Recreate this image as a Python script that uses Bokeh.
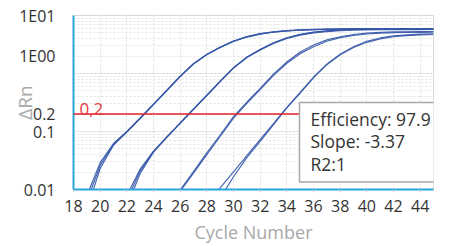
import numpy as np
from bokeh.plotting import figure
from bokeh.models import FixedTicker, Span, Label
from bokeh.embed import file_html
from bokeh.resources import INLINE

# ---- data ----
cycles = list(range(18, 46))
N = None

g1_a = [N, 0.0078, 0.029, 0.062, 0.100, 0.171, 0.297, 0.515, 0.90, 1.48, 2.12, 2.82, 3.58, 4.25,
        4.78, 5.15, 5.40, 5.58, 5.68, 5.75, 5.79, 5.82, 5.84, 5.85, 5.86, 5.86, 5.87, 5.87]
g1_b = [N, 0.0063, 0.026, 0.060, 0.099, 0.169, 0.294, 0.51, 0.894, 1.474, 2.13, 2.84, 3.63, 4.32,
        4.86, 5.24, 5.49, 5.67, 5.76, 5.82, 5.86, 5.89, 5.90, 5.90, 5.90, 5.90, 5.90, 5.90]
g1_c = [N, 0.0045, 0.023, 0.058, 0.098, 0.167, 0.291, 0.505, 0.885, 1.46, 2.12, 2.83, 3.60, 4.28,
        4.83, 5.20, 5.45, 5.62, 5.72, 5.79, 5.83, 5.86, 5.87, 5.88, 5.88, 5.88, 5.88, 5.88]

g2_a = [N, N, N, N, 0.0078, 0.0225, 0.046, 0.081, 0.1405, 0.244, 0.423, 0.738, 1.26, 1.91,
        2.60, 3.38, 4.13, 4.72, 5.15, 5.44, 5.63, 5.75, 5.81, 5.85, 5.87, 5.88, 5.89, 5.89]
g2_b = [N, N, N, N, 0.0065, 0.021, 0.045, 0.0802, 0.1394, 0.2424, 0.4207, 0.734, 1.25, 1.90,
        2.58, 3.35, 4.10, 4.69, 5.12, 5.41, 5.61, 5.74, 5.80, 5.85, 5.88, 5.90, 5.90, 5.90]
g2_c = [N, N, N, N, 0.005, 0.019, 0.044, 0.0795, 0.138, 0.241, 0.418, 0.728, 1.24, 1.88,
        2.55, 3.30, 4.03, 4.60, 5.00, 5.28, 5.46, 5.57, 5.64, 5.68, 5.70, 5.72, 5.73, 5.74]

g3_a = [N, N, N, N, N, N, N, 0.0048, 0.0098, 0.0204, 0.0427, 0.087, 0.18, 0.319,
        0.555, 0.973, 1.58, 2.35, 3.10, 3.80, 4.30, 4.70, 4.95, 5.10, 5.20, 5.25, 5.28, 5.30]
g3_b = [N, N, N, N, N, N, N, 0.0045, 0.0093, 0.0192, 0.040, 0.082, 0.170, 0.305,
        0.53, 0.93, 1.50, 2.20, 2.90, 3.60, 4.15, 4.55, 4.80, 4.95, 5.05, 5.10, 5.13, 5.15]

g4_a = [N, N, N, N, N, N, N, N, N, N, 0.0056, 0.0107, 0.0202, 0.0382,
        0.0724, 0.1365, 0.26, 0.47, 0.86, 1.45, 2.15, 2.90, 3.60, 4.10, 4.45, 4.65, 4.78, 4.85]
g4_b = [N, N, N, N, N, N, N, N, N, N, N, 0.0071, 0.0166, 0.0355,
        0.0676, 0.132, 0.255, 0.46, 0.85, 1.42, 2.10, 2.80, 3.45, 3.95, 4.30, 4.50, 4.62, 4.70]

curves = [g1_a, g1_b, g1_c, g2_a, g2_b, g2_c, g3_a, g3_b, g4_a, g4_b]

threshold = 0.2
threshold_label = "0,2"

x_ticks = list(range(18, 46, 2))
y_tick_values = [0.01, 0.1, 0.2, 2, 10]
y_tick_labels = ["0.01", "0.1", "0.2", "1E00", "1E01"]
y_grid_major = [0.01, 0.1, 1, 10]
y_grid_minor = [m * d for d in [0.01, 0.1, 1] for m in range(2, 10)]

stats_text = "Efficiency: 97.9\nSlope: -3.37\nR2:1"
x_title = "Cycle Number"
y_title = "\u0394Rn"

FONT = "Open Sans"
AXIS_BLUE = "#2ba3db"
LINE_BLUE = "#3456a8"

W, H = 450, 246
p = figure(width=W, height=H, y_axis_type="log",
           x_range=(18, 45), y_range=(0.01, 10),
           output_backend="svg", toolbar_location=None,
           min_border_left=73, min_border_right=W - 433,
           min_border_top=15, min_border_bottom=H - 193)
p.background_fill_color = "white"
p.border_fill_color = "white"
p.outline_line_color = "#d8d8d8"
p.outline_line_width = 1

# grids
p.xgrid.ticker = FixedTicker(ticks=x_ticks)
p.xgrid.grid_line_color = "#dcdcdc"
p.xgrid.grid_line_dash = "2 2"
p.ygrid.ticker = FixedTicker(ticks=y_grid_major, minor_ticks=y_grid_minor)
p.ygrid.grid_line_color = "#d6d6d6"
p.ygrid.grid_line_dash = "2 1"
p.ygrid.minor_grid_line_color = "#e3e3e3"
p.ygrid.minor_grid_line_dash = "2 2"

# axes
p.xaxis.ticker = FixedTicker(ticks=x_ticks)
p.yaxis.ticker = FixedTicker(ticks=y_tick_values)
p.yaxis.major_label_overrides = {v: t for v, t in zip(y_tick_values, y_tick_labels)}
for ax in (p.xaxis, p.yaxis):
    ax.axis_line_color = AXIS_BLUE
    ax.axis_line_width = 2
    ax.major_label_text_font = FONT
    ax.major_label_text_font_size = "16px"
    ax.major_label_text_color = "#333333"
    ax.minor_tick_line_color = None
    ax.axis_label_text_font = FONT
    ax.axis_label_text_font_style = "normal"
    ax.axis_label_text_color = "#a9a9a9"
p.yaxis.major_tick_line_color = None
p.yaxis.major_label_standoff = 12
p.xaxis.major_tick_line_color = "#c8c8c8"
p.xaxis.major_tick_out = 3
p.xaxis.major_tick_in = 0
p.xaxis.major_label_standoff = 7

p.xaxis.axis_label = x_title
p.xaxis.axis_label_text_font_size = "18px"
p.xaxis.axis_label_standoff = 5
p.yaxis.axis_label = y_title
p.yaxis.axis_label_text_font_size = "19px"
p.yaxis.axis_label_standoff = -22

# curves
for c in curves:
    p.line(cycles, np.array(c, dtype=float), line_color=LINE_BLUE,
           line_width=1.2, line_alpha=0.9)

# threshold
p.add_layout(Span(location=threshold, dimension="width",
                  line_color="#e5222b", line_width=1.5))
p.add_layout(Label(x=18, y=threshold, x_offset=6, y_offset=5, text=threshold_label,
                   text_color="#e5383f", text_font=FONT, text_font_size="17px",
                   text_baseline="alphabetic"))

# stats box
p.add_layout(Label(x=299, y=102, x_units="canvas", y_units="canvas", text=stats_text,
                   text_align="left", text_baseline="top",
                   text_font=FONT, text_font_size="17.5px", text_color="#333333",
                   text_line_height=0.95,
                   background_fill_color="white", border_line_color="#a8a8a8",
                   border_line_width=1.5, padding=(11, 11, 4, 6)))

open("out.html", "w").write(file_html(p, INLINE))
